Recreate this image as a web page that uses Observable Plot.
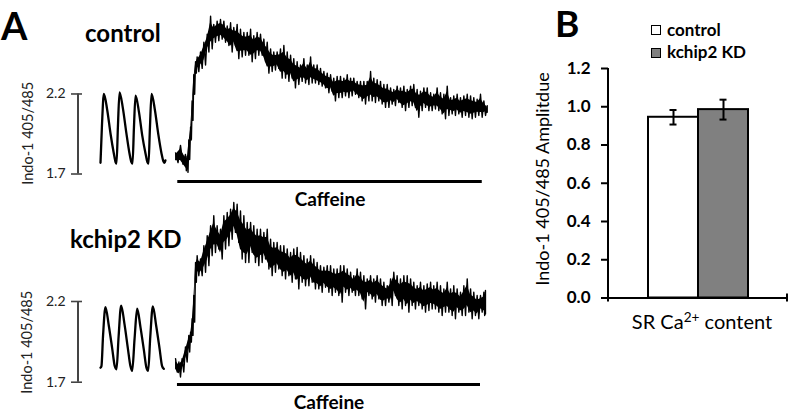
<!DOCTYPE html>
<html><head><meta charset="utf-8">
<script src="https://cdn.jsdelivr.net/npm/d3@7"></script>
<script src="https://cdn.jsdelivr.net/npm/@observablehq/plot@0.6"></script>
<style>
body{margin:0;background:#fff;}
#fig{position:relative;width:790px;height:415px;overflow:hidden;font-family:Lato,sans-serif;background:#fff;}
#fig svg{position:absolute;}
.lbl{position:absolute;white-space:nowrap;line-height:1;color:#000;}
#chartB g[aria-label="y-axis tick label"]{font-weight:700;}
</style></head><body><div id="fig"></div>
<script>
// ---------- Panel A data (time in s, Indo-1 405/485 ratio) ----------
const scaleTicks = [1.7, 2.2];
const pacedCtrlT = [0,0.09,0.21,0.42,0.63,0.83,0.94,1.0,1.09,1.19,1.40,1.61,1.81,1.93,2.0,2.09,2.19,2.40,2.61,2.81,2.93,3.0,3.09,3.19,3.40,3.61,3.81,3.93,4.0,4.06];
const pacedCtrlV = [1.77,2.00,2.20,2.10,1.95,1.83,1.775,1.765,2.00,2.21,2.11,1.96,1.83,1.775,1.765,1.99,2.19,2.09,1.94,1.83,1.775,1.765,1.99,2.20,2.10,1.95,1.83,1.78,1.77,1.785];
const pacedKdT = [0,0.06,0.16,0.31,0.52,0.73,0.89,1.0,1.13,1.29,1.50,1.71,1.87,1.98,2.13,2.29,2.50,2.71,2.87,2.98,3.11,3.27,3.48,3.69,3.85,3.96];
const pacedKdV = [1.79,1.80,1.99,2.165,2.05,1.91,1.80,1.78,1.98,2.175,2.06,1.91,1.80,1.77,1.97,2.155,2.04,1.90,1.79,1.77,1.98,2.17,2.05,1.91,1.80,1.783];

const caffCtrlT = [4.69,5.00,5.31,5.42,5.52,5.63,5.73,5.83,5.94,6.04,6.25,6.46,6.67,6.88,7.08,7.29,7.50,7.71,7.92,8.13,8.33,8.54,8.75,8.96,9.17,9.38,9.58,9.79,10.00,10.21,10.42,10.63,10.83,11.04,11.25,11.46,11.67,11.88,12.08,12.29,12.50,12.71,12.92,13.13,13.33,13.54,13.75,13.96,14.17,14.38,14.58,14.79,15.00,15.21,15.42,15.63,15.83,16.04,16.25,16.46,16.67,16.88,17.08,17.29,17.50,17.71,17.92,18.13,18.33,18.54,18.75,18.96,19.17,19.38,19.58,19.79,20.00,20.21,20.42,20.63,20.83,21.04,21.25,21.46,21.67,21.88,22.08,22.29,22.50,22.71,22.92,23.13,23.33,23.54,23.75,23.96,24.17];
const caffCtrlHi = [1.832,1.879,1.822,1.811,1.913,1.994,2.157,2.320,2.401,2.432,2.462,2.523,2.574,2.686,2.635,2.655,2.665,2.655,2.625,2.645,2.615,2.635,2.604,2.584,2.584,2.604,2.564,2.584,2.574,2.543,2.523,2.482,2.462,2.462,2.482,2.503,2.462,2.442,2.421,2.401,2.381,2.421,2.381,2.432,2.381,2.381,2.360,2.340,2.330,2.320,2.299,2.310,2.310,2.299,2.320,2.299,2.299,2.279,2.279,2.279,2.279,2.340,2.299,2.289,2.279,2.259,2.259,2.238,2.228,2.249,2.238,2.249,2.228,2.249,2.259,2.228,2.218,2.238,2.238,2.208,2.198,2.238,2.208,2.198,2.249,2.177,2.188,2.198,2.177,2.188,2.198,2.188,2.177,2.167,2.198,2.157,2.127];
const caffCtrlLo = [1.771,1.761,1.720,1.710,1.791,1.913,2.035,2.198,2.330,2.340,2.360,2.381,2.462,2.482,2.523,2.533,2.543,2.523,2.503,2.462,2.503,2.421,2.432,2.442,2.442,2.401,2.421,2.442,2.442,2.401,2.330,2.340,2.350,2.360,2.299,2.299,2.279,2.299,2.238,2.259,2.279,2.269,2.259,2.269,2.269,2.259,2.249,2.238,2.208,2.218,2.157,2.177,2.177,2.188,2.177,2.188,2.198,2.177,2.157,2.137,2.157,2.157,2.147,2.157,2.137,2.116,2.116,2.137,2.127,2.147,2.116,2.096,2.116,2.127,2.116,2.055,2.096,2.116,2.096,2.096,2.106,2.096,2.076,2.045,2.066,2.076,2.066,2.076,2.055,2.066,2.055,2.045,2.055,2.066,2.055,2.066,2.086];

const caffKdT = [4.69,4.90,5.10,5.31,5.52,5.63,5.73,5.83,5.94,6.04,6.25,6.46,6.67,6.88,7.08,7.29,7.50,7.71,7.92,8.13,8.33,8.54,8.75,8.96,9.17,9.38,9.58,9.79,10.00,10.21,10.42,10.63,10.83,11.04,11.25,11.46,11.67,11.88,12.08,12.29,12.50,12.71,12.92,13.13,13.33,13.54,13.75,13.96,14.17,14.38,14.58,14.79,15.00,15.21,15.42,15.63,15.83,16.04,16.25,16.46,16.67,16.88,17.08,17.29,17.50,17.71,17.92,18.13,18.33,18.54,18.75,18.96,19.17,19.38,19.58,19.79,20.00,20.21,20.42,20.63,20.83,21.04,21.25,21.46,21.67,21.88,22.08,22.29,22.50,22.71,22.92,23.13,23.33,23.54,23.75,23.96,24.06];
const caffKdHi = [1.846,1.825,1.846,1.918,1.990,2.010,2.093,2.237,2.442,2.484,2.463,2.545,2.607,2.669,2.731,2.669,2.648,2.731,2.751,2.772,2.813,2.803,2.761,2.731,2.690,2.690,2.669,2.648,2.648,2.628,2.648,2.586,2.566,2.566,2.545,2.545,2.525,2.504,2.525,2.535,2.504,2.484,2.463,2.484,2.463,2.442,2.422,2.412,2.422,2.422,2.401,2.401,2.422,2.422,2.401,2.381,2.360,2.401,2.381,2.360,2.340,2.360,2.340,2.360,2.340,2.319,2.298,2.340,2.381,2.360,2.340,2.360,2.360,2.340,2.319,2.298,2.319,2.298,2.309,2.319,2.298,2.319,2.298,2.278,2.319,2.278,2.298,2.278,2.257,2.298,2.340,2.278,2.257,2.237,2.237,2.257,2.268];
const caffKdLo = [1.763,1.732,1.763,1.825,1.887,1.948,1.990,2.072,2.319,2.360,2.360,2.381,2.422,2.484,2.504,2.525,2.463,2.525,2.545,2.586,2.628,2.566,2.463,2.442,2.442,2.504,2.442,2.422,2.442,2.463,2.401,2.360,2.381,2.401,2.360,2.340,2.360,2.319,2.340,2.278,2.319,2.298,2.298,2.319,2.278,2.278,2.257,2.288,2.257,2.237,2.257,2.237,2.196,2.257,2.237,2.257,2.237,2.237,2.216,2.154,2.237,2.216,2.196,2.216,2.175,2.175,2.196,2.175,2.237,2.175,2.154,2.175,2.134,2.175,2.154,2.175,2.154,2.134,2.144,2.154,2.154,2.134,2.113,2.134,2.134,2.113,2.093,2.134,2.113,2.113,2.134,2.093,2.113,2.093,2.134,2.113,2.123];

// caffeine application (s)
const caffOnCtrl = 4.83, caffOffCtrl = 23.86;
const caffOnKd = 4.81, caffOffKd = 23.75;

// ---------- Panel B data ----------
const groups = ["control", "kchip2 KD"];
const means = [0.945, 0.985];
const sems = [0.038, 0.052];
const barFills = ["#ffffff", "#808080"];
const yTicksB = [0, 0.2, 0.4, 0.6, 0.8, 1.0, 1.2];

const fig = document.getElementById("fig");

function tracePanel(o) {
  const paced = o.pacedT.map((t, i) => ({t, v: o.pacedV[i]}));
  const band = o.caffT.map((t, i) => {
    const r = o.hi[i] - o.lo[i];
    return {t, c1: o.lo[i] + 0.2 * r, c2: o.hi[i] - 0.2 * r};
  });
  const zig = [];
  o.caffT.forEach((t, i) => {
    zig.push({t, v: o.hi[i]});
    const tn = i + 1 < o.caffT.length ? (t + o.caffT[i + 1]) / 2 : t;
    zig.push({t: tn, v: o.lo[i]});
  });
  const tStart = -1.125;
  const svg = Plot.plot({
    width: 500, height: o.height,
    marginLeft: 82, marginRight: 0, marginTop: 0, marginBottom: 0,
    x: {domain: [tStart, 25], axis: null},
    y: {domain: o.yDomain, axis: null},
    style: {background: "transparent", fontFamily: "Lato", overflow: "visible"},
    marks: [
      Plot.axisY({ticks: scaleTicks, tickFormat: ".1f", tickSize: 11, tickPadding: 6, fontSize: 14, fill: "#222", stroke: "#444", strokeWidth: 1.6, label: null}),
      Plot.ruleX([tStart], {y1: scaleTicks[0], y2: scaleTicks[1], dx: -4.5, stroke: "#444", strokeWidth: 2}),
      Plot.line(paced, {x: "t", y: "v", stroke: "#000", strokeWidth: 2.3, curve: "monotone-x"}),
      Plot.areaY(band, {x: "t", y1: "c1", y2: "c2", fill: "#000"}),
      Plot.line(zig, {x: "t", y: "v", stroke: "#000", strokeWidth: 1.4}),
      Plot.ruleY([o.barLevel], {x1: o.on, x2: o.off, stroke: "#000", strokeWidth: 3}),
      Plot.text(["Caffeine"], {x: (o.on + o.off) / 2, y: o.barLevel, dy: 18, fontSize: 19, fontWeight: "bold", fill: "#000"})
    ]
  });
  svg.style.left = "0px";
  svg.style.top = o.top + "px";
  fig.appendChild(svg);
}

tracePanel({pacedT: pacedCtrlT, pacedV: pacedCtrlV, caffT: caffCtrlT, hi: caffCtrlHi, lo: caffCtrlLo,
  on: caffOnCtrl, off: caffOffCtrl, barLevel: 1.653, yDomain: [1.472, 2.784], height: 210, top: 0});
tracePanel({pacedT: pacedKdT, pacedV: pacedKdV, caffT: caffKdT, hi: caffKdHi, lo: caffKdLo,
  on: caffOnKd, off: caffOffKd, barLevel: 1.686, yDomain: [1.4937, 2.8877], height: 225, top: 190});

// ---------- Panel B ----------
const bdata = groups.map((g, i) => ({g, m: means[i], lo: means[i] - sems[i], hi: means[i] + sems[i], fill: barFills[i]}));
const chartB = Plot.plot({
  width: 270, height: 415,
  marginLeft: 88, marginRight: 3, marginTop: 68, marginBottom: 117.5,
  x: {domain: groups, paddingInner: 0, paddingOuter: 0.76, axis: null},
  y: {domain: [0, 1.2], axis: null},
  color: {type: "identity"},
  style: {background: "transparent", fontFamily: "Lato", overflow: "visible"},
  marks: [
    Plot.axisY({ticks: yTicksB, tickFormat: ".1f", tickSize: 7, tickPadding: 11, fontSize: 17, fill: "#000", stroke: "#000", strokeWidth: 2, label: null}),
    Plot.barY(bdata, {x: "g", y: "m", fill: d => d.fill, stroke: "#000", strokeWidth: 2}),
    Plot.ruleX(bdata, {x: "g", y1: "lo", y2: "hi", stroke: "#000", strokeWidth: 2}),
    Plot.tickY(bdata, {x: "g", y: "lo", stroke: "#000", strokeWidth: 2, insetLeft: 21.5, insetRight: 21.5}),
    Plot.tickY(bdata, {x: "g", y: "hi", stroke: "#000", strokeWidth: 2, insetLeft: 21.5, insetRight: 21.5}),
    Plot.ruleY([0], {stroke: "#000", strokeWidth: 2})
  ]
});
chartB.id = "chartB";
chartB.style.left = "520px";
chartB.style.top = "0px";
fig.appendChild(chartB);
{
  const xr = chartB.scale("x").range, yr = chartB.scale("y").range;
  const s = d3.select(chartB);
  s.append("line").attr("x1", xr[0]).attr("x2", xr[0]).attr("y1", yr[1]).attr("y2", yr[0] + 4).attr("stroke", "#000").attr("stroke-width", 2);
  s.append("line").attr("x1", xr[1]).attr("x2", xr[1]).attr("y1", yr[0] - 4).attr("y2", yr[0] + 4).attr("stroke", "#000").attr("stroke-width", 2);
}

// ---------- Text labels ----------
function label(html, css) {
  const d = document.createElement("div");
  d.className = "lbl";
  d.innerHTML = html;
  d.style.cssText += css;
  fig.appendChild(d);
}
label("A", "left:1px;top:6px;font-size:38px;font-weight:700;");
label("B", "left:555px;top:4px;font-size:37px;font-weight:700;");
label("control", "left:85px;top:21px;font-size:24px;font-weight:700;");
label("kchip2 KD", "left:70px;top:227px;font-size:24px;font-weight:700;");
label("Indo-1 405/485", "left:-72.5px;top:126px;width:200px;font-size:14.5px;color:#222;text-align:center;transform:rotate(-90deg);");
label("Indo-1 405/485", "left:-73px;top:335px;width:200px;font-size:14.5px;color:#222;text-align:center;transform:rotate(-90deg);");
label("Indo-1 405/485 Amplitdue", "left:391.5px;top:169.5px;width:300px;font-size:18px;text-align:center;transform:rotate(-90deg);");
label("SR Ca<span style=\"font-size:0.68em;position:relative;top:-0.5em;\">2+</span> content", "left:602px;top:311px;width:200px;font-size:20px;text-align:center;");
// legend
label("", "left:651px;top:25px;width:8px;height:8px;border:1.5px solid #000;background:" + barFills[0] + ";");
label("", "left:651px;top:48px;width:8px;height:8px;border:1.5px solid #000;background:" + barFills[1] + ";");
label(groups[0], "left:667px;top:21px;font-size:17px;font-weight:700;");
label(groups[1], "left:667px;top:43px;font-size:17px;font-weight:700;");
</script></body></html>
